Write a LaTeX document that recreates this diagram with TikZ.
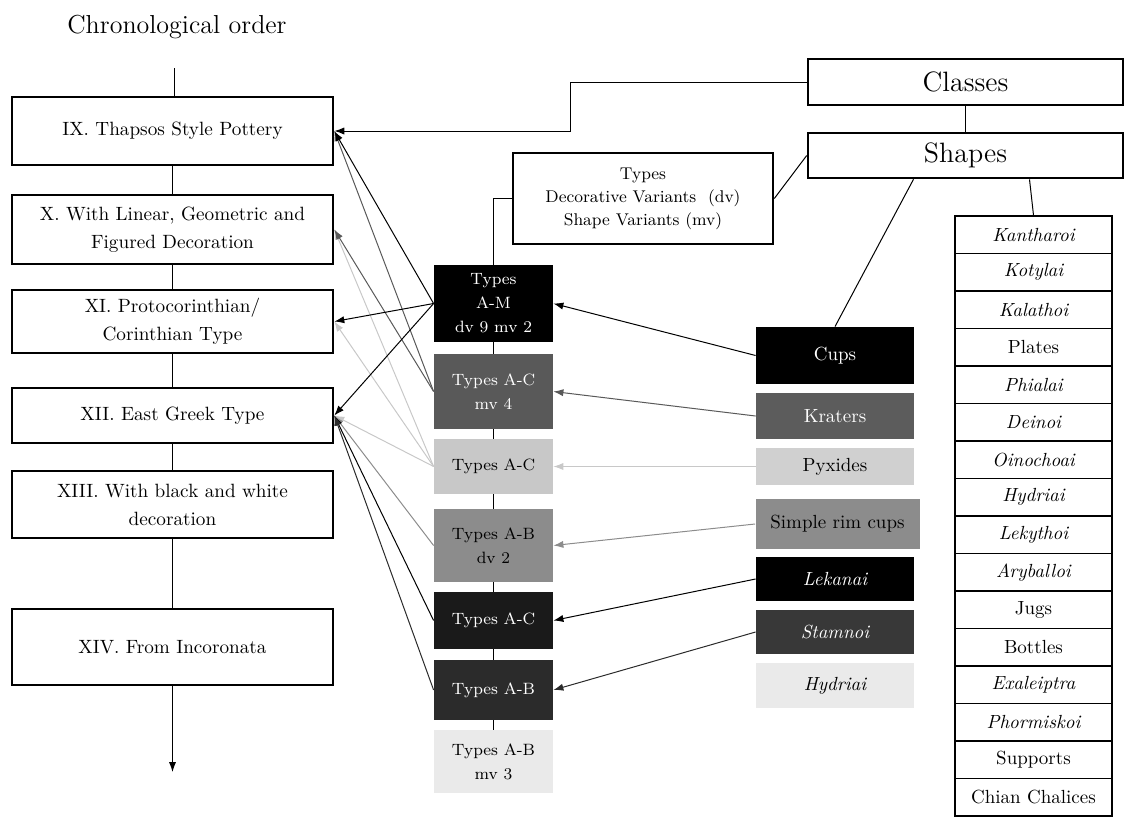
\documentclass[tikz,border=0pt]{standalone}
\usetikzlibrary{positioning,calc,arrows.meta}
\definecolor{grayA}{HTML}{595959}
\definecolor{grayB}{HTML}{8C8C8C}
\definecolor{grayC}{HTML}{C8C8C8}
\definecolor{grayD}{HTML}{2B2B2B}
\definecolor{grayE}{HTML}{1A1A1A}
\definecolor{grayF}{HTML}{EAEAEA}
\definecolor{grayK}{HTML}{5C5C5C}
\definecolor{grayP}{HTML}{D0D0D0}
\definecolor{grayS}{HTML}{383838}
\tikzset{
    every node/.style={font=\fontsize{9.6}{14}\selectfont},
    periodbox/.style={draw, line width=1.3pt, minimum width=160.5pt, align=center, inner sep=2pt},
    headbox/.style={draw, line width=1.3pt, minimum width=157.5pt, font=\fontsize{14}{16}\selectfont},
    typebox/.style={minimum width=59.5pt, align=center, inner sep=1pt, font=\fontsize{8.2}{12}\selectfont},
    shapebox/.style={minimum width=79pt, align=center, inner sep=1pt, font=\fontsize{9.5}{11}\selectfont},
    listcell/.style={draw, line width=0.8pt, minimum width=78.5pt, minimum height=18.75pt, inner sep=1pt, font=\fontsize{9.5}{11}\selectfont},
    arrow/.style={-{Latex[length=5pt,width=3.6pt]}, line width=0.5pt},
    link/.style={line width=0.5pt},
}

\begin{document}
\begin{tikzpicture}[x=0.5pt,y=-0.5pt]
\useasboundingbox (0,0) rectangle (1126,816);

% chronological column
\node[font=\fontsize{13}{15}\selectfont] (title) at (177,27) {Chronological order};
\node[periodbox, minimum height=34pt]   (pIX)   at (172.5,131)   {IX. Thapsos Style Pottery};
\node[periodbox, minimum height=34.5pt] (pX)    at (172.5,229.5) {X. With Linear, Geometric and\\Figured Decoration};
\node[periodbox, minimum height=31.5pt] (pXI)   at (172.5,321.5) {XI. Protocorinthian/\\Corinthian Type};
\node[periodbox, minimum height=27.5pt] (pXII)  at (172.5,415.5) {XII. East Greek Type};
\node[periodbox, minimum height=33.5pt] (pXIII) at (172.5,504.5) {XIII. With black and white\\decoration};
\node[periodbox, minimum height=38pt]   (pXIV)  at (172.5,647)   {XIV. From Incoronata};
\coordinate (chronotop) at (174,68);
\coordinate (chronoend) at (174,772);

% classes and shapes
\node[headbox, minimum height=23pt]   (classes) at (965.5,82)    {Classes};
\node[headbox, minimum height=22.5pt] (shapes)  at (965.5,155.5) {Shapes};
\node[draw, line width=1.3pt, minimum width=130pt, minimum height=45.5pt, align=center,
      font=\fontsize{8.5}{11.5}\selectfont] (info) at (643,198.5)
      {Types\\Decorative Variants \ (dv)\\Shape Variants (mv)};
\coordinate (classbend) at (570,82);

% types column
\node[typebox, fill=black, text=white, minimum height=38.5pt] (tAM)      at (493.5,303.5) {Types\\A-M\\dv 9 mv 2};
\node[typebox, fill=grayA, text=white, minimum height=37.5pt] (tACmv)    at (493.5,391.5) {Types A-C\\mv 4};
\node[typebox, fill=grayC, minimum height=27.5pt]             (tAClight) at (493.5,466.5) {Types A-C};
\node[typebox, fill=grayB, minimum height=36.5pt]             (tABdv)    at (493.5,545.5) {Types A-B\\dv 2};
\node[typebox, fill=grayE, text=white, minimum height=28.5pt] (tACdark)  at (493.5,620.5) {Types A-C};
\node[typebox, fill=grayD, text=white, minimum height=30pt]   (tABdark)  at (493.5,690)   {Types A-B};
\node[typebox, fill=grayF, minimum height=31.5pt]             (tABmv)    at (493.5,761.5) {Types A-B\\mv 3};

% shapes column
\node[shapebox, fill=black, text=white, minimum height=28.5pt] (cups) at (835,355.5) {Cups};
\node[shapebox, fill=grayK, text=white, minimum height=23pt]   (krat) at (835,416)   {Kraters};
\node[shapebox, fill=grayP, minimum height=18.5pt]             (pyx)  at (835,466.5) {Pyxides};
\node[shapebox, fill=grayB, minimum height=25pt, minimum width=82pt] (rim) at (837.5,524) {Simple rim cups};
\node[shapebox, fill=black, text=white, minimum height=22pt]   (lek)  at (835,579)   {\itshape Lekanai};
\node[shapebox, fill=grayS, text=white, minimum height=22pt]   (stam) at (835,632)   {\itshape Stamnoi};
\node[shapebox, fill=grayF, minimum height=22.5pt]             (hyd)  at (835,685.5) {\itshape Hydriai};

% list of shapes
\foreach \txt/\sty [count=\i] in {Kantharoi/\itshape, Kotylai/\itshape, Kalathoi/\itshape, Plates/\upshape,
    Phialai/\itshape, Deinoi/\itshape, Oinochoai/\itshape, Hydriai/\itshape, Lekythoi/\itshape,
    Aryballoi/\itshape, Jugs/\upshape, Bottles/\upshape, Exaleiptra/\itshape, Phormiskoi/\itshape,
    Supports/\upshape, Chian Chalices/\upshape}{
  \node[listcell] (cell\i) at (1033.5,{234.75+37.5*(\i-1)}) {\sty\txt};
}

% chronology links
\draw[link] (chronotop) -- (chronotop |- pIX.north);
\foreach \a/\b in {pIX/pX, pX/pXI, pXI/pXII, pXII/pXIII, pXIII/pXIV}
  \draw[link] (\a) -- (\b);
\draw[arrow] (pXIV.south) -- (pXIV.south |- chronoend);

% hierarchy links
\draw[arrow] (classes.west) -- (classbend) |- (pIX.east);
\draw[link] (classes) -- (shapes);
\draw[link] (shapes.west) -- (info.east);
\draw[link] (info.west) -| (tAM.north);
\draw[link] ([xshift=-26pt]shapes.south) -- (cups.north);
\draw[link] ([xshift=32pt]shapes.south) -- (cell1.north);
\foreach \a/\b in {tAM/tACmv, tACmv/tAClight, tAClight/tABdv, tABdv/tACdark, tACdark/tABdark, tABdark/tABmv}
  \draw[link] (\a) -- (\b);

% shapes to types
\foreach \s/\t/\c in {krat/tACmv/grayA, pyx/tAClight/grayC, rim/tABdv/grayB,
                      cups/tAM/black, lek/tACdark/black, stam/tABdark/grayD}
  \draw[arrow, color=\c] (\s.west) -- (\t.east);

% types to periods
\foreach \s/\t/\c in {tAClight/pX/grayC, tAClight/pXI/grayC, tAClight/pXII/grayC,
                      tABdv/pXII/grayB, tACmv/pIX/grayA, tACmv/pX/grayA,
                      tACdark/pXII/black, tABdark/pXII/grayD,
                      tAM/pIX/black, tAM/pXI/black, tAM/pXII/black}
  \draw[arrow, color=\c] (\s.west) -- (\t.east);

\end{tikzpicture}
\end{document}
